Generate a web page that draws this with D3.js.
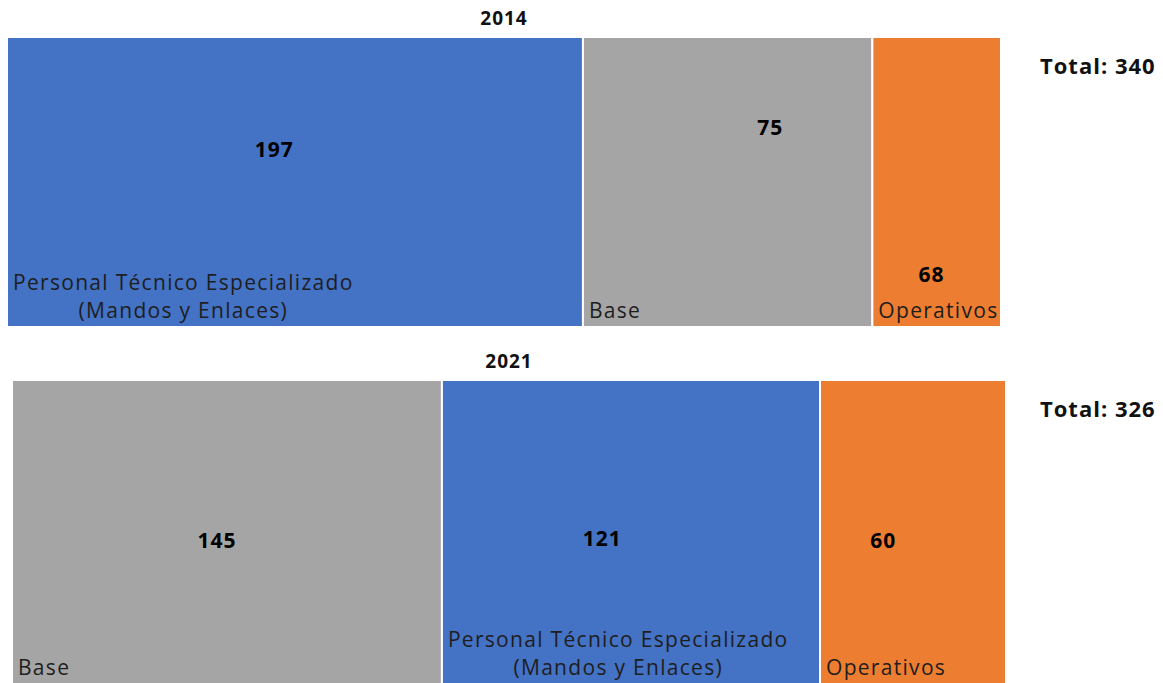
<!DOCTYPE html>
<html>
<head>
<meta charset="utf-8">
<script src="https://cdn.jsdelivr.net/npm/d3@7"></script>
<style>
  body { margin: 0; background: #fff; }
  text { font-family: "Open Sans", "Noto Sans", sans-serif; }
</style>
</head>
<body>
<script>
var years = ["2014", "2021"];

var categories2014 = ["Personal Técnico Especializado|(Mandos y Enlaces)", "Base", "Operativos"];
var values2014 = [197, 75, 68];
var tiles2014 = [197, 99, 44];      // tile widths as they appear in the source picture

var categories2021 = ["Base", "Personal Técnico Especializado|(Mandos y Enlaces)", "Operativos"];
var values2021 = [145, 121, 60];
var tiles2021 = [141, 124, 61];

var totals = [340, 326];

var w = 1163;
var h = 683;

var color = d3.scaleOrdinal()
    .domain(["Personal Técnico Especializado|(Mandos y Enlaces)", "Base", "Operativos"])
    .range(["#4472C4", "#A5A5A5", "#ED7D31"]);

// layout of each row (left edge, top, bottom) and where the value sits inside its tile
var rows = [
  {year: years[0], cats: categories2014, vals: values2014, tiles: tiles2014, total: totals[0],
   x0: 7, top: 37, bottom: 327, pos: [[0.464, 0.39], [0.647, 0.314], [0.46, 0.82]]},
  {year: years[1], cats: categories2021, vals: values2021, tiles: tiles2021, total: totals[1],
   x0: 12, top: 380, bottom: 684, pos: [[0.477, 0.53], [0.424, 0.523], [0.34, 0.53]]}
];
var rowWidth = 994;

var svg = d3.select("body")
    .append("svg")
    .attr("width", w)
    .attr("height", h);

rows.forEach(function(row) {
  var x = d3.scaleLinear()
      .domain([0, d3.sum(row.tiles)])
      .range([row.x0, row.x0 + rowWidth]);

  var cum = d3.cumsum(row.tiles);
  var data = row.cats.map(function(c, i) {
    return {cat: c, value: row.vals[i], start: i ? cum[i - 1] : 0, end: cum[i], pos: row.pos[i]};
  });

  var g = svg.append("g");

  // year title
  g.append("text")
      .attr("x", row.x0 + rowWidth / 2)
      .attr("y", row.top - 12)
      .attr("text-anchor", "middle")
      .attr("font-size", 19)
      .attr("font-weight", "bold")
      .attr("letter-spacing", 1)
      .attr("fill", "#111")
      .text(row.year);

  // total at right
  g.append("text")
      .attr("x", 1040)
      .attr("y", row.top + 37)
      .attr("font-size", 22)
      .attr("font-weight", "bold")
      .attr("letter-spacing", 1)
      .attr("fill", "#111")
      .text("Total: " + row.total);

  var tiles = g.selectAll("g.tile")
      .data(data)
      .enter()
      .append("g")
      .attr("class", "tile");

  tiles.append("rect")
      .attr("x", function(d) { return x(d.start); })
      .attr("y", row.top)
      .attr("width", function(d) { return x(d.end) - x(d.start); })
      .attr("height", row.bottom - row.top)
      .attr("fill", function(d) { return color(d.cat); })
      .attr("stroke", "#fff")
      .attr("stroke-width", 2);

  // value labels
  tiles.append("text")
      .attr("x", function(d) { return x(d.start) + d.pos[0] * (x(d.end) - x(d.start)); })
      .attr("y", function(d) { return row.top + d.pos[1] * (row.bottom - row.top); })
      .attr("dy", "0.35em")
      .attr("text-anchor", "middle")
      .attr("font-size", 21)
      .attr("font-weight", "bold")
      .attr("letter-spacing", 1)
      .attr("fill", "#000")
      .text(function(d) { return d.value; });

  // category labels, bottom-left
  tiles.each(function(d) {
    var lines = d.cat.split("|");
    var t = d3.select(this).append("text")
        .attr("font-size", 21)
        .attr("letter-spacing", 1.3)
        .attr("fill", "#1e1e1e");
    lines.forEach(function(line, i) {
      t.append("tspan")
          .attr("y", row.bottom - 9 - (lines.length - 1 - i) * 28)
          .text(line);
    });
    var left = x(d.start) + 6;
    if (lines.length > 1) {
      var maxW = d3.max(t.selectAll("tspan").nodes(), function(n) { return n.getComputedTextLength(); });
      t.attr("text-anchor", "middle");
      t.selectAll("tspan").attr("x", left + maxW / 2);
    } else {
      t.selectAll("tspan").attr("x", left);
    }
  });
});
</script>
</body>
</html>
